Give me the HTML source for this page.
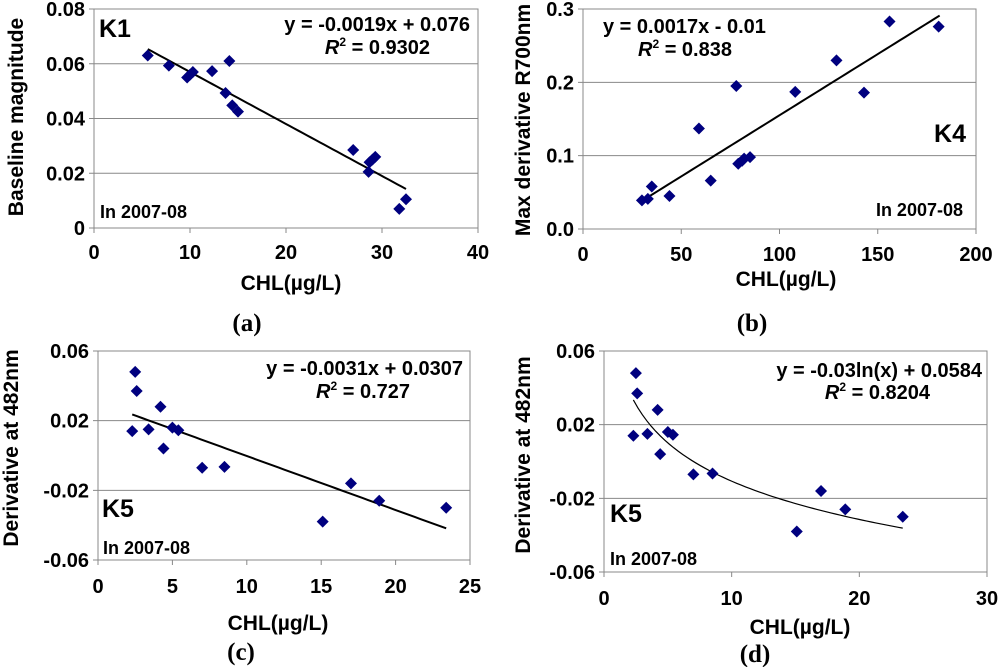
<!DOCTYPE html>
<html><head><meta charset="utf-8"><style>
body{margin:0;background:#fff}
svg text{font-family:"Liberation Sans",Arial,sans-serif;font-weight:bold;fill:#000}
.cap{font-family:"Liberation Serif",serif;font-size:25px}
</style></head><body>
<svg id="s" width="1000" height="667" xmlns="http://www.w3.org/2000/svg"></svg>
<script>
// Panel a data
const aX=[5.6,7.8,9.7,10,10.3,12.3,13.7,14.1,14.4,15,27,28.6,28.7,29,29.3,31.8,32.5];
const aY=[0.063,0.0593,0.055,0.056,0.057,0.0573,0.0493,0.061,0.0448,0.0425,0.0285,0.0205,0.024,0.025,0.026,0.007,0.0105];
const aXTicks=[0,10,20,30,40];
const aYTicks=[0,0.02,0.04,0.06,0.08];
const aYLabels=["0","0.02","0.04","0.06","0.08"];
// Panel b data
const bX=[30,33,35,44,59,65,78,79,81,82,85,108,129,143,156,181];
const bY=[0.039,0.041,0.058,0.045,0.137,0.066,0.195,0.089,0.093,0.096,0.098,0.187,0.23,0.186,0.283,0.276];
const bXTicks=[0,50,100,150,200];
const bYTicks=[0,0.1,0.2,0.3];
const bYLabels=["0.0","0.1","0.2","0.3"];
// Panels c,d data
const cX=[2.3,2.5,2.6,3.4,4.2,4.4,5.0,5.4,7.0,8.5,15.1,17,18.9,23.4];
const cY=[0.014,0.048,0.037,0.015,0.028,0.004,0.016,0.0145,-0.007,-0.0065,-0.038,-0.016,-0.026,-0.030];
const cXTicks=[0,5,10,15,20,25];
const dXTicks=[0,10,20,30];
const cYTicks=[-0.06,-0.02,0.02,0.06];
const cYLabels=["-0.06","-0.02","0.02","0.06"];

const NS="http://www.w3.org/2000/svg";
const svg=document.getElementById('s');
function el(tag,attrs,parent,text){const e=document.createElementNS(NS,tag);for(const k in attrs)e.setAttribute(k,attrs[k]);if(text!==undefined)e.textContent=text;(parent||svg).appendChild(e);return e;}

function panel(o){
  const g=el('g',{});
  
  
  const sx=v=>o.x0+(v-o.xmin)/(o.xmax-o.xmin)*(o.x1-o.x0);
  const sy=v=>o.y0-(v-o.ymin)/(o.ymax-o.ymin)*(o.y0-o.y1);
  o.yTicks.forEach((t,i)=>{
    const y=sy(t);
    const gl=el('line',{x1:o.x0-5,x2:o.x1,y1:y,y2:y,stroke:'#888','stroke-width':1},g);
    
    
    const tl=el('text',{x:o.x0-9,y:y+7,'text-anchor':'end','font-size':20},g,o.yLabels[i]);
    
    
  });
  const fr=el('rect',{x:o.x0,y:o.y1,width:o.x1-o.x0,height:o.y0-o.y1,fill:'none',stroke:'#888','stroke-width':1},g);
  
  
  o.xTicks.forEach(t=>{
    const x=sx(t);
    el('line',{x1:x,x2:x,y1:o.y0,y2:o.y0+5,stroke:'#888'},g);
    const tl=el('text',{x:x,y:o.xLabY,'text-anchor':'middle','font-size':20},g,String(t));
    
    
  });
  let d='';
  for(let i=0;i<=60;i++){const xv=o.fx0+(o.fx1-o.fx0)*i/60;d+=(i?'L':'M')+sx(xv).toFixed(2)+' '+sy(o.f(xv)).toFixed(2);}
  const tr=el('path',{d:d,fill:'none',stroke:'#000','stroke-width':o.lw},g);
  
  
  o.xs.forEach((xv,i)=>{
    const x=sx(xv),y=sy(o.ys[i]);
    const p=el('polygon',{points:`${x},${y-6} ${x+6},${y} ${x},${y+6} ${x-6},${y}`,fill:'#00007f'},g);
    
    
  });
  const xt=el('text',{x:o.xtx,y:o.xty,'text-anchor':'middle','font-size':21},g,'CHL(µg/L)');
  
  
  const yt=el('text',{x:0,y:0,'text-anchor':'middle','font-size':21,transform:`translate(${o.ytx},${o.yty}) rotate(-90)`},g,o.ytitle);
  
  
  o.texts.forEach(t=>{
    const e=el('text',{x:t[0],y:t[1],'text-anchor':t[2],'font-size':t[3]},g);
    
    
    e.innerHTML=t[4];
  });
  const c=el('text',{x:o.capx,y:o.capy,'text-anchor':'middle',class:'cap'},g,o.cap);
  
  
}
const R2='<tspan font-style="italic">R</tspan><tspan font-size="12" dy="-8">2</tspan><tspan dy="8"> = ';

panel({name:'panel-a',x0:94,x1:478,y0:228,y1:9,xmin:0,xmax:40,ymin:0,ymax:0.08,xs:aX,ys:aY,xTicks:aXTicks,yTicks:aYTicks,yLabels:aYLabels,
 f:x=>-0.0019*x+0.076,fx0:5.6,fx1:32.5,lw:2,xLabY:259,xtx:291,xty:290,ytx:23,yty:117,ytitle:'Baseline magnitude',
 texts:[[99,37,'start',25,'K1','panel-label'],[470,31,'end',20,'y = -0.0019x + 0.076','equation'],[430,54,'end',20,R2+'0.9302</tspan>','r-squared'],[100,218,'start',18,'In 2007-08','period-note']],
 cap:'(a)',capx:247,capy:331});
panel({name:'panel-b',x0:583,x1:976,y0:229,y1:9,xmin:0,xmax:200,ymin:0,ymax:0.3,xs:bX,ys:bY,xTicks:bXTicks,yTicks:bYTicks,yLabels:bYLabels,
 f:x=>0.001668*x-0.0117,fx0:30.7,fx1:181.5,lw:2,xLabY:261,xtx:786,xty:286,ytx:530,yty:120,ytitle:'Max derivative R700nm',
 texts:[[966,142,'end',25,'K4','panel-label'],[603,33,'start',20,'y = 0.0017x - 0.01','equation'],[638,56,'start',20,R2+'0.838</tspan>','r-squared'],[963,216,'end',18,'In 2007-08','period-note']],
 cap:'(b)',capx:752,capy:331});
panel({name:'panel-c',x0:98,x1:470,y0:560,y1:351,xmin:0,xmax:25,ymin:-0.06,ymax:0.06,xs:cX,ys:cY,xTicks:cXTicks,yTicks:cYTicks,yLabels:cYLabels,
 f:x=>-0.0031*x+0.0307,fx0:2.3,fx1:23.4,lw:2,xLabY:593,xtx:278,xty:630,ytx:18,yty:448,ytitle:'Derivative at 482nm',
 texts:[[102,517,'start',25,'K5','panel-label'],[463,375,'end',20,'y = -0.0031x + 0.0307','equation'],[410,398,'end',20,R2+'0.727</tspan>','r-squared'],[103,554,'start',18,'In 2007-08','period-note']],
 cap:'(c)',capx:241,capy:660});
panel({name:'panel-d',x0:604,x1:987,y0:572,y1:351,xmin:0,xmax:30,ymin:-0.06,ymax:0.06,xs:cX,ys:cY,xTicks:dXTicks,yTicks:cYTicks,yLabels:cYLabels,
 f:x=>-0.03*Math.log(x)+0.0584,fx0:2.3,fx1:23.4,lw:1.2,xLabY:605,xtx:800,xty:634,ytx:530,yty:455,ytitle:'Derivative at 482nm',
 texts:[[610,522,'start',25,'K5','panel-label'],[982,377,'end',20,'y = -0.03ln(x) + 0.0584','equation'],[930,399,'end',20,R2+'0.8204</tspan>','r-squared'],[610,565,'start',18,'In 2007-08','period-note']],
 cap:'(d)',capx:755,capy:662});
</script>
</body></html>
